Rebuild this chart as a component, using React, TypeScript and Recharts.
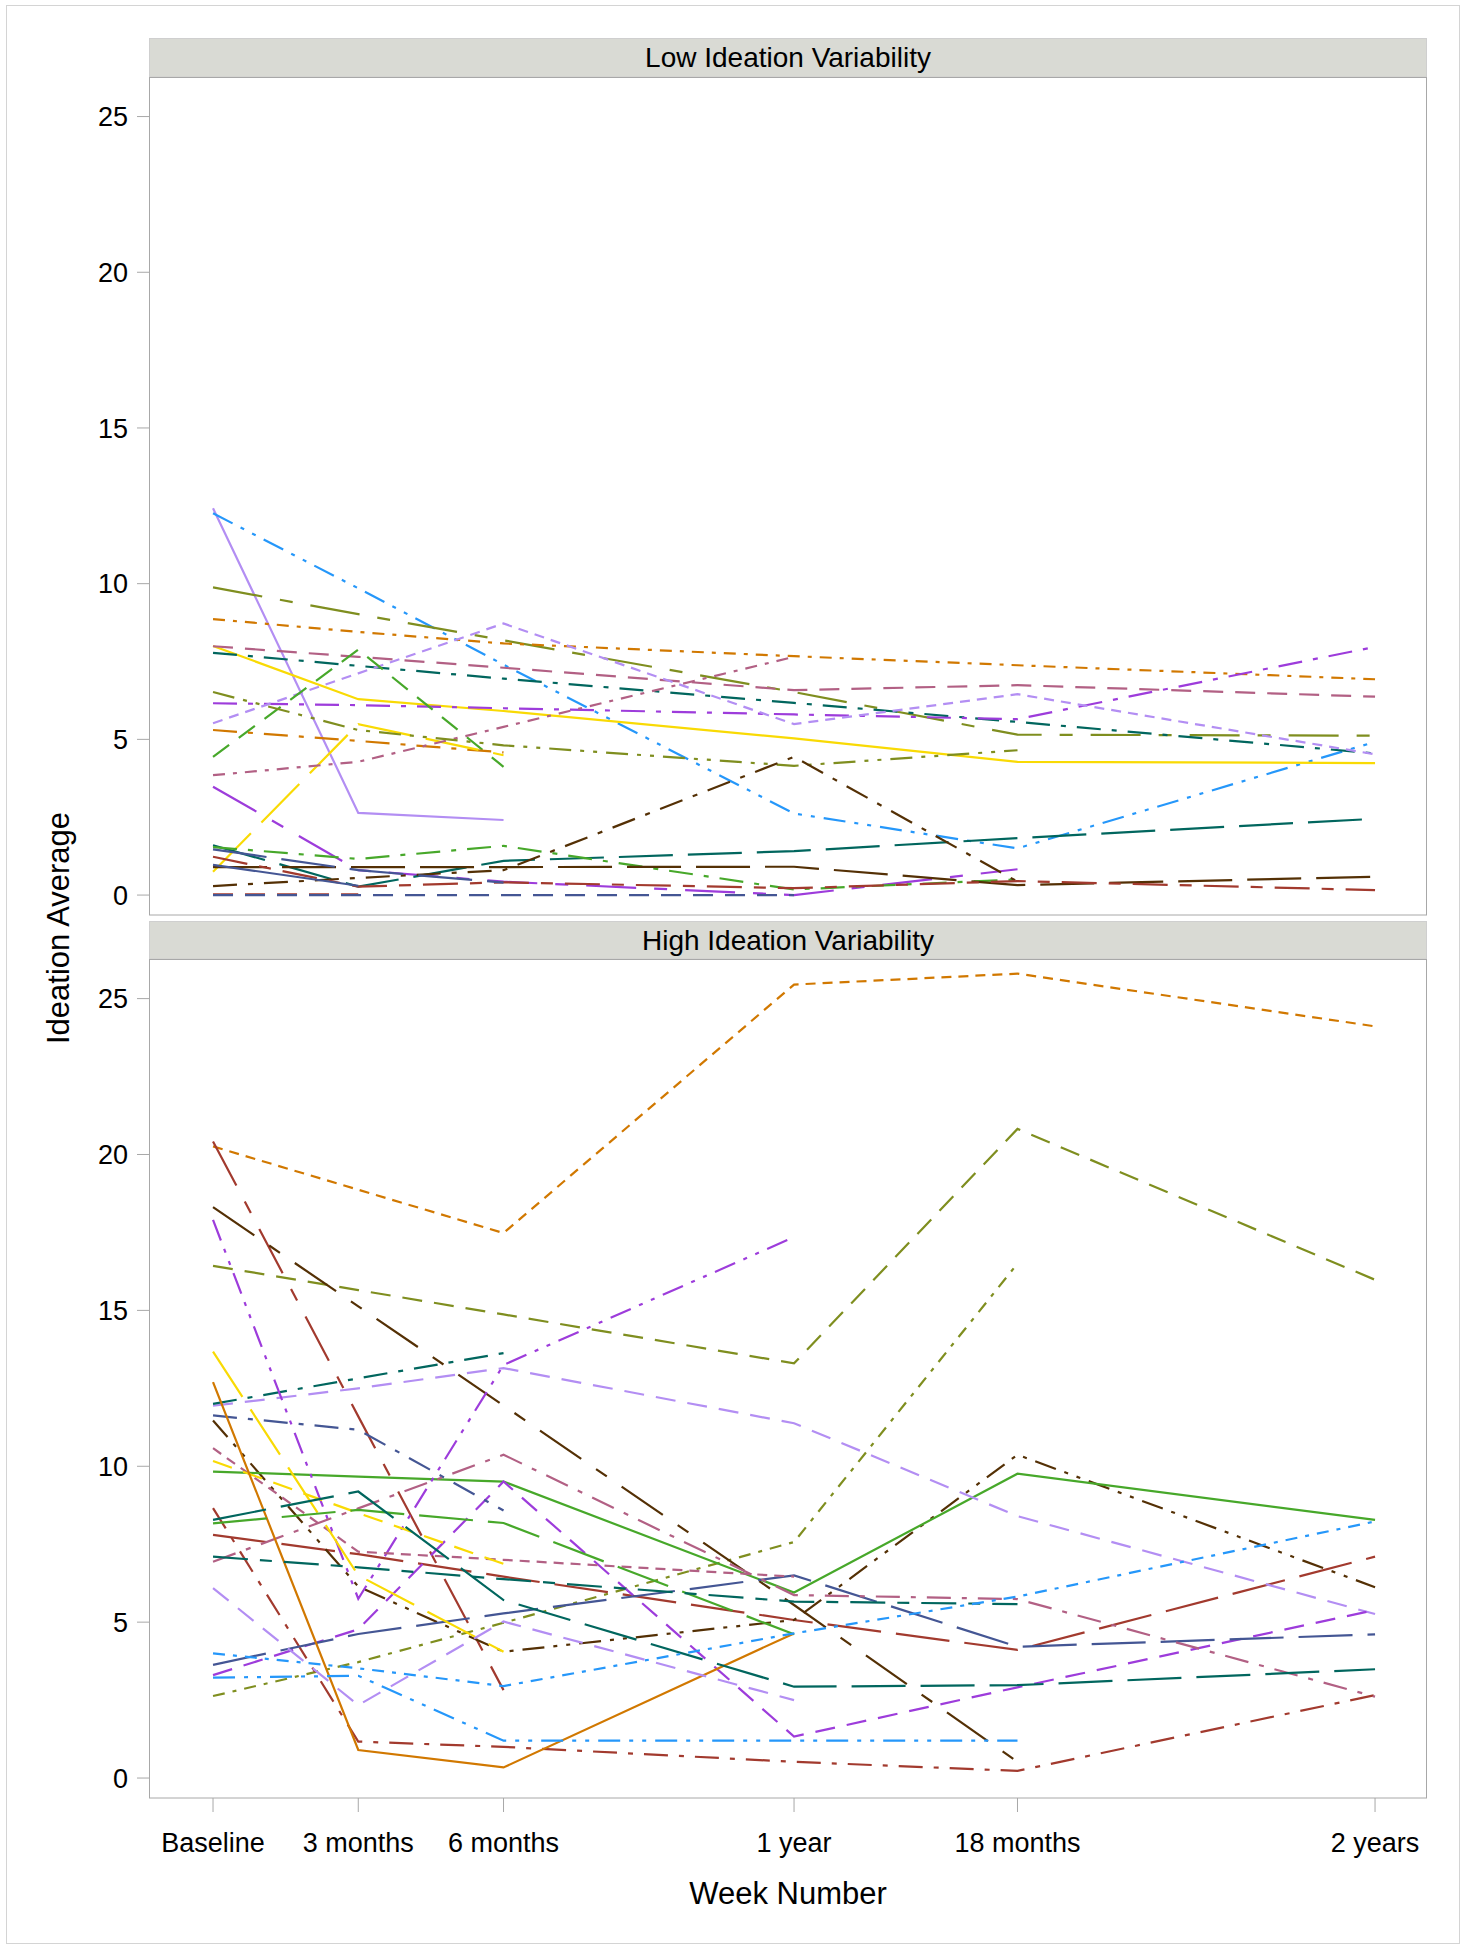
import React from "react";
import { LineChart, Line, XAxis, YAxis } from "recharts";

const FONT = '"Liberation Sans", Arial, sans-serif';
const W = 1467;
const H = 1952;

// time points (weeks) and their labels
const weeks = [0, 13, 26, 52, 72, 104];
const weekLabels = ["Baseline", "3 months", "6 months", "1 year", "18 months", "2 years"];
const yTicks = [0, 5, 10, 15, 20, 25];

// Low ideation variability: one row per subject, null = not observed
const lowValues: (number | null)[][] = [
  [12.42, 2.64, 2.41, null, null, null],
  [12.26, 9.85, 7.4, 2.62, 1.5, 4.92],
  [9.88, 9.02, 8.18, 6.52, 5.15, 5.12],
  [8.86, 8.45, 8.08, 7.67, 7.38, 6.93],
  [8.0, 6.29, 5.91, 5.03, 4.28, 4.24],
  [7.99, 7.65, 7.3, 6.58, 6.74, 6.37],
  [7.78, 7.36, 6.95, 6.17, 5.56, 4.55],
  [6.16, 6.1, 6.0, 5.8, 5.65, 7.97],
  [5.52, 7.12, 8.72, 5.49, 6.45, 4.52],
  [4.44, 7.88, 4.12, null, null, null],
  [5.3, 4.95, 4.58, null, null, null],
  [0.75, 5.49, 4.49, null, null, null],
  [3.85, 4.28, 5.4, 7.65, null, null],
  [6.52, 5.3, 4.81, 4.15, 4.65, null],
  [3.48, 0.8, 0.43, 0.0, 0.83, null],
  [1.6, 0.27, 1.1, 1.41, 1.83, 2.45],
  [1.54, 1.16, 1.58, 0.18, 0.5, null],
  [0.9, 0.9, 0.9, 0.91, 0.32, 0.59],
  [0.29, 0.55, 0.8, 4.44, 0.43, null],
  [1.23, 0.27, 0.41, 0.22, 0.45, 0.16],
  [0.02, 0.02, null, null, null, null],
  [0.0, 0.0, 0.0, 0.0, null, null],
  [1.47, 0.8, 0.4, null, null, null],
  [0.97, 0.3, null, null, null, null],
];

// High ideation variability
const highValues: (number | null)[][] = [
  [20.26, 18.87, 17.48, 25.45, 25.8, 24.11],
  [16.43, 15.65, 14.87, 13.3, 20.82, 15.98],
  [2.63, 3.72, 4.98, 7.57, 16.5, null],
  [20.42, 11.6, 2.82, null, null, null],
  [8.66, 1.17, 1.0, 0.52, 0.23, 2.66],
  [7.8, 7.18, 6.46, 5.07, 4.11, 7.1],
  [18.31, 15.13, 11.95, 5.55, 0.52, null],
  [11.47, 6.14, 4.05, 5.07, 10.37, 6.12],
  [9.83, 9.67, 9.51, 5.95, 9.76, 8.28],
  [11.94, 12.5, 13.15, 11.38, 8.4, 5.26],
  [12.0, 12.82, 13.63, null, null, null],
  [17.9, 5.75, 13.25, 17.35, null, null],
  [3.3, 4.77, 9.51, 1.33, 2.91, 5.39],
  [11.63, 11.17, 8.58, null, null, null],
  [3.63, 4.62, 5.28, 6.5, 4.21, 4.61],
  [6.94, 8.65, 10.37, 5.87, 5.74, 2.61],
  [10.58, 7.26, 7.0, 6.46, null, null],
  [13.68, 6.5, 4.05, null, null, null],
  [10.17, 8.5, 6.87, null, null, null],
  [12.7, 0.9, 0.34, 4.64, null, null],
  [8.17, 8.6, 8.18, 4.61, null, null],
  [8.28, 9.19, 5.71, 2.93, 2.98, 3.49],
  [7.1, 6.76, 6.38, 5.66, 5.58, null],
  [4.0, 3.52, 2.95, 4.64, 5.82, 8.23],
  [3.22, 3.28, 1.2, 1.2, 1.2, null],
  [6.09, 2.34, 5.02, 2.5, null, null],
];

// SAS default group colours
const C = {
  slate: "#445694",
  brick: "#A23A2E",
  teal: "#01665E",
  brown: "#543005",
  purple: "#9D3CDB",
  olive: "#7F8E1F",
  blue: "#2597FA",
  mauve: "#B26084",
  orange: "#D17800",
  green: "#47A82A",
  lavender: "#B38EF3",
  yellow: "#F9DA04",
};

// dash patterns
const D = {
  solid: "",
  short: "10 7",
  medium: "20 12",
  long: "54 15",
  longShort: "50 18 13 18",
  dashDot: "24 11 5 11",
  dashDotDot: "22 9 4 9 4 9",
  dot: "12 8 4 8",
  longDot: "35 12 12 12",
};

const lowStyle: [string, string][] = [
  [C.lavender, D.solid],
  [C.blue, D.dashDotDot],
  [C.olive, D.longShort],
  [C.orange, D.dot],
  [C.yellow, D.solid],
  [C.mauve, D.medium],
  [C.teal, D.dashDot],
  [C.purple, D.dashDot],
  [C.lavender, D.short],
  [C.green, D.medium],
  [C.orange, D.dashDot],
  [C.yellow, D.long],
  [C.mauve, D.dot],
  [C.olive, D.dashDotDot],
  [C.purple, D.longShort],
  [C.teal, D.long],
  [C.green, D.dashDot],
  [C.brown, D.long],
  [C.brown, D.dashDot],
  [C.brick, D.longDot],
  [C.brick, D.medium],
  [C.slate, D.medium],
  [C.slate, D.long],
  [C.slate, D.solid],
];

const highStyle: [string, string][] = [
  [C.orange, D.short],
  [C.olive, D.medium],
  [C.olive, D.dot],
  [C.brick, D.longShort],
  [C.brick, D.dashDot],
  [C.brick, D.long],
  [C.brown, D.longShort],
  [C.brown, D.dashDotDot],
  [C.green, D.solid],
  [C.lavender, D.medium],
  [C.teal, D.dashDot],
  [C.purple, D.dashDotDot],
  [C.purple, D.medium],
  [C.slate, D.dashDot],
  [C.slate, D.long],
  [C.mauve, D.dashDot],
  [C.mauve, D.short],
  [C.yellow, D.long],
  [C.yellow, D.medium],
  [C.orange, D.solid],
  [C.green, D.long],
  [C.teal, D.long],
  [C.teal, D.longDot],
  [C.blue, D.dot],
  [C.blue, D.dashDotDot],
  [C.lavender, D.medium],
];

const X_DOMAIN: [number, number] = [-5.73, 108.65];
const Y_DOMAIN: [number, number] = [-0.64, 26.27];
const PLOT_L = 149;
const PLOT_R = 1427;

const toPoints = (vals: (number | null)[]) =>
  vals
    .map((v, i) => (v == null ? null : { x: weeks[i], y: v }))
    .filter((p) => p !== null) as { x: number; y: number }[];

const XTick = (props: any) => {
  const { x, payload } = props;
  const idx = weeks.indexOf(payload.value);
  return (
    <text x={x} y={1852} textAnchor="middle" fontSize={27} fontFamily={FONT} fill="#000">
      {weekLabels[idx]}
    </text>
  );
};

function Panel({
  values,
  styles,
  height,
  top,
  bottom,
  showX,
}: {
  values: (number | null)[][];
  styles: [string, string][];
  height: number;
  top: number;
  bottom: number;
  showX: boolean;
}) {
  return (
    <div style={{ position: "absolute", left: 0, top: 0 }}>
      <LineChart
        width={W}
        height={height}
        margin={{ top, right: W - PLOT_R, left: 0, bottom }}
      >
        <XAxis
          type="number"
          dataKey="x"
          domain={X_DOMAIN}
          allowDataOverflow
          ticks={weeks}
          interval={0}
          hide={!showX}
          height={60}
          tickSize={14}
          axisLine={false}
          tickLine={{ stroke: "#A8A8A8" }}
          tick={XTick}
        />
        <YAxis
          type="number"
          domain={Y_DOMAIN}
          allowDataOverflow
          ticks={yTicks}
          interval={0}
          width={PLOT_L}
          tickSize={12}
          tickMargin={9}
          axisLine={false}
          tickLine={{ stroke: "#A8A8A8" }}
          tick={{ fontSize: 27, fill: "#000", fontFamily: FONT }}
        />
        {values.map((vals, i) => (
          <Line
            key={i}
            data={toPoints(vals)}
            dataKey="y"
            type="linear"
            stroke={styles[i][0]}
            strokeDasharray={styles[i][1] || undefined}
            strokeWidth={2.2}
            dot={false}
            activeDot={false}
            isAnimationActive={false}
          />
        ))}
      </LineChart>
    </div>
  );
}

export default function App() {
  const pw = PLOT_R - PLOT_L;
  const cx = (PLOT_L + PLOT_R) / 2;
  return (
    <div style={{ position: "relative", width: W, height: H, background: "#fff", fontFamily: FONT }}>
      <style>{`body{margin:0}`}</style>
      <svg width={W} height={H} style={{ position: "absolute", left: 0, top: 0 }}>
        <rect x={6.5} y={5.5} width={1453} height={1938} fill="#fff" stroke="#D4D4D4" />
        {/* top panel */}
        <rect x={PLOT_L + 0.5} y={38.5} width={pw - 1} height={38.5} fill="#D9DAD4" stroke="#CFCFCF" />
        <rect x={PLOT_L + 0.5} y={77.5} width={pw - 1} height={837.5} fill="#fff" stroke="#A8A8A8" />
        <text x={cx} y={66.5} textAnchor="middle" fontSize={28} fontFamily={FONT} fill="#000">
          Low Ideation Variability
        </text>
        {/* bottom panel */}
        <rect x={PLOT_L + 0.5} y={921.5} width={pw - 1} height={37.5} fill="#D9DAD4" stroke="#CFCFCF" />
        <rect x={PLOT_L + 0.5} y={959.5} width={pw - 1} height={838.5} fill="#fff" stroke="#A8A8A8" />
        <text x={cx} y={949.5} textAnchor="middle" fontSize={28} fontFamily={FONT} fill="#000">
          High Ideation Variability
        </text>
        <text x={cx} y={1904} textAnchor="middle" fontSize={31} fontFamily={FONT} fill="#000">
          Week Number
        </text>
        <text
          transform="translate(69,928) rotate(-90)"
          textAnchor="middle"
          fontSize={31}
          fontFamily={FONT}
          fill="#000"
        >
          Ideation Average
        </text>
      </svg>
      <Panel values={lowValues} styles={lowStyle} height={930} top={77} bottom={15} showX={false} />
      <Panel values={highValues} styles={highStyle} height={H} top={959} bottom={94} showX />
    </div>
  );
}
